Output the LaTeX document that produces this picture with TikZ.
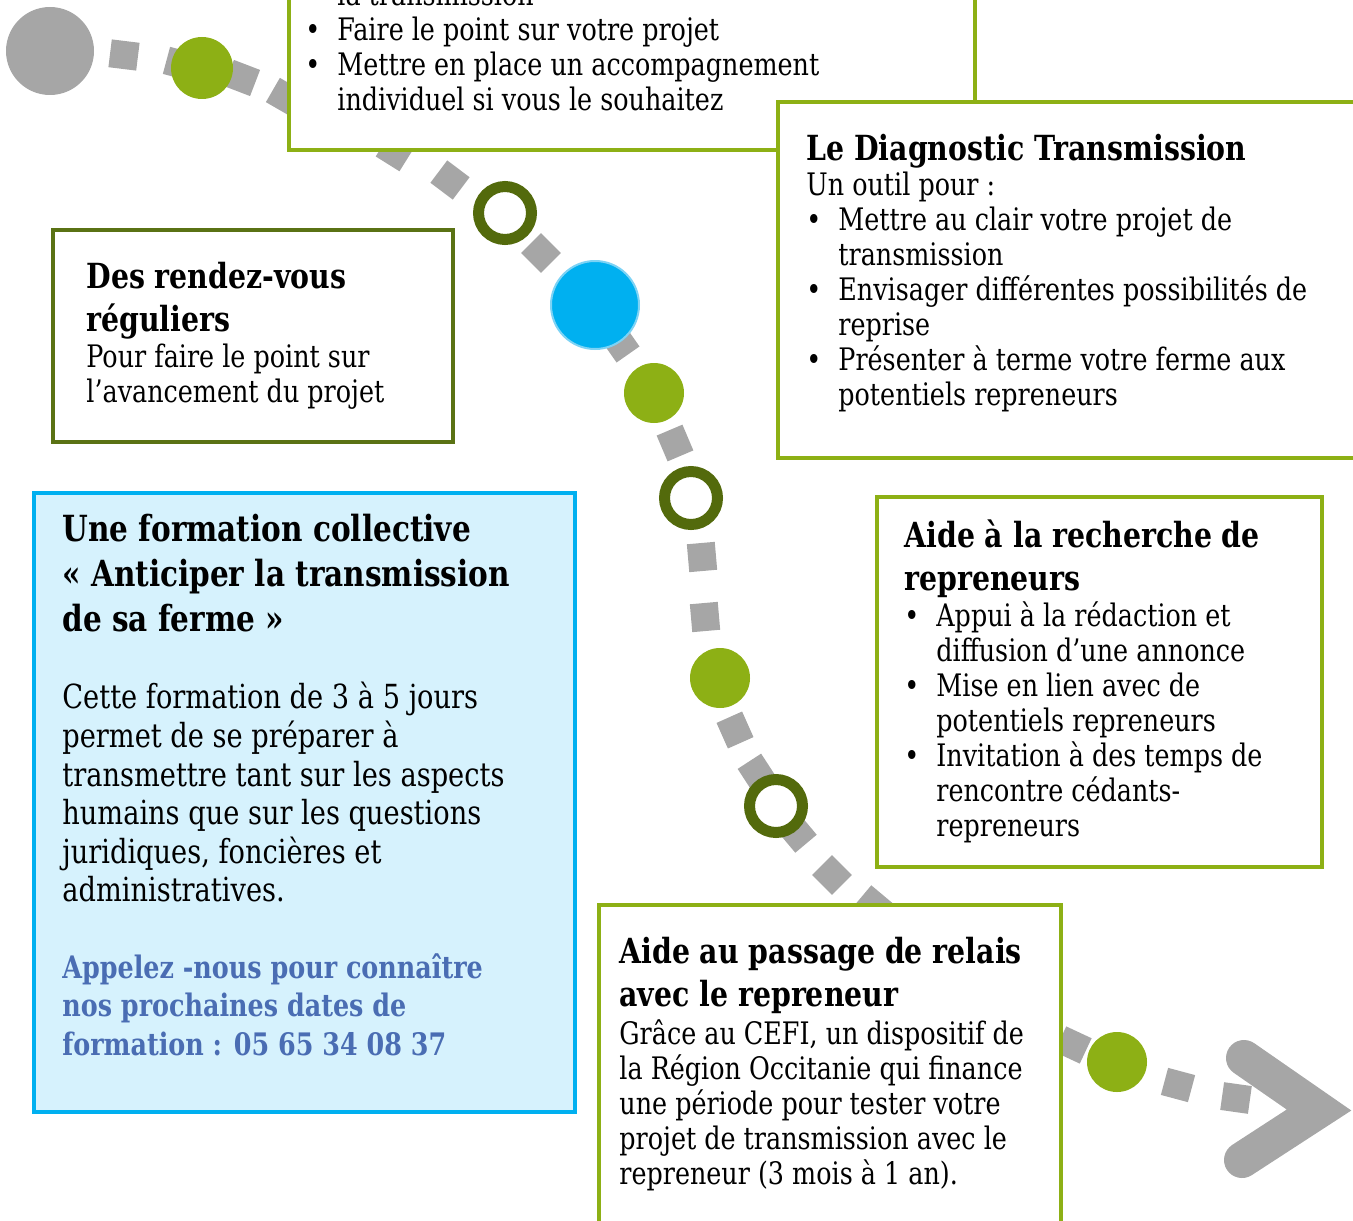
\documentclass[tikz,border=0pt]{standalone}
\usepackage{fontspec}
\setmainfont{DejaVu Serif}
\newfontfamily\etroit{DejaVu Serif}[FakeStretch=0.82]
\usetikzlibrary{positioning}

\definecolor{vertclair}{HTML}{8DB015}
\definecolor{vertfonce}{HTML}{5A7214}
\definecolor{vertanneau}{HTML}{536A0C}
\definecolor{gris}{HTML}{A6A6A6}
\definecolor{bleu}{HTML}{00B0F0}
\definecolor{bleubord}{HTML}{7DD3F5}
\definecolor{bleupale}{HTML}{D6F2FD}
\definecolor{bleutexte}{HTML}{4A6DB3}

\newcommand{\puce}{\makebox[16pt][l]{\textbullet}}
\newcommand{\suite}{\hspace*{16pt}}

\begin{document}
\begin{tikzpicture}[x=0.5pt, y=-0.5pt,
    pave/.style={fill=gris, minimum size=14pt, inner sep=0pt},
    pastille/.style={circle, fill=vertclair, minimum size=30pt, inner sep=0pt},
    anneau/.style={circle, draw=vertanneau, line width=5.5pt, fill=white, minimum size=26.5pt, inner sep=0pt},
    cadre/.style={draw=vertclair, line width=2pt, fill=white, anchor=north west, inner sep=0pt},
    titre/.style={anchor=north west, inner sep=0pt, align=left, font=\etroit\bfseries\fontsize{17.3}{21.5}\selectfont},
    texte/.style={anchor=north west, inner sep=0pt, align=left, font=\etroit\fontsize{15.5}{17.5}\selectfont}]
  \useasboundingbox (0,0) rectangle (1353,1220);

  % le chemin
  \node[pave, rotate=-7] (p1) at (124,55) {};
  \node[pave, rotate=-15] (p2) at (180,64) {};
  \node[pave, rotate=-21] (p3) at (242,78) {};
  \node[pave, rotate=-30] (p4) at (285,97) {};
  \node[pave, rotate=-32] (p5) at (395,152) {};
  \node[pave, rotate=-37] (p6) at (450,180) {};
  \node[pave, rotate=-45] (p7) at (541,253) {};
  \node[pave, rotate=-55] (p8) at (620,343) {};
  \node[pave, rotate=-67] (p9) at (675,443) {};
  \node[pave, rotate=-85] (p10) at (702,557) {};
  \node[pave, rotate=-85] (p11) at (705,617) {};
  \node[pave, rotate=-66] (p12) at (735,730) {};
  \node[pave, rotate=-57] (p13) at (757,773) {};
  \node[pave, rotate=-50] (p14) at (797,833) {};
  \node[pave, rotate=-45] (p15) at (832,875) {};
  \node[pave, rotate=-40] (p16) at (873,905) {};
  \node[pave, rotate=-25] (p17) at (1073,1045) {};
  \node[pave, rotate=-15] (p18) at (1178,1085) {};
  \node[pave, rotate=-8] (p19) at (1236,1098) {};

  \node[circle, fill=gris, minimum size=44pt, inner sep=0pt] (depart) at (50,51) {};
  \node[pastille, minimum size=31pt] (e1) at (202,68) {};
  \node[anneau] (e2) at (505,213) {};
  \node[circle, fill=bleu, draw=bleubord, line width=1pt, minimum size=44pt, inner sep=0pt] (e3) at (595,305) {};
  \node[pastille] (e4) at (654,393) {};
  \node[anneau] (e5) at (691,498) {};
  \node[pastille] (e6) at (720,678) {};
  \node[anneau] (e7) at (776,806) {};
  \node[pastille] (e8) at (1117,1062) {};

  \coordinate (fhaut) at (1244,1058);
  \coordinate (fpointe) at (1319,1110);
  \coordinate (fbas) at (1242,1160);
  \draw[gris, line width=18pt, line cap=round, line join=miter] (fhaut) -- (fpointe) -- (fbas);

  % les cadres
  \node[cadre, minimum width=343pt, minimum height=104pt] (haut) at (287,-60) {};
  \node[cadre, minimum width=302pt, minimum height=178pt] (diag) at (776,100) {};
  \node[cadre, draw=vertfonce, minimum width=200pt, minimum height=106pt] (rdv) at (51,228) {};
  \node[cadre, draw=bleu, fill=bleupale, minimum width=270.5pt, minimum height=309.5pt] (formation) at (32,491) {};
  \node[cadre, minimum width=222.5pt, minimum height=185pt] (recherche) at (875,495) {};
  \node[cadre, minimum width=231pt, minimum height=178.5pt] (relais) at (597,903) {};

  % les textes
  \node[texte] (hautliste) at (305,-18) {\suite la transmission\\ \puce Faire le point sur votre projet\\
    \puce Mettre en place un accompagnement\\ \suite individuel si vous le souhaitez};

  \node[titre] (diagtitre) at (806,134) {Le Diagnostic Transmission};
  \node[texte] (diagliste) at (806,172) {Un outil pour :\\ \puce Mettre au clair votre projet de\\
    \suite transmission\\ \puce Envisager différentes possibilités de\\ \suite reprise\\
    \puce Présenter à terme votre ferme aux\\ \suite potentiels repreneurs};

  \node[titre] (rdvtitre) at (86,262) {Des rendez-vous\\ réguliers};
  \node[texte] (rdvtexte) at (86,344) {Pour faire le point sur\\ l’avancement du projet};

  \node[titre, font=\etroit\bfseries\fontsize{18}{22.5}\selectfont] (formtitre) at (62,514)
    {Une formation collective\\ « Anticiper la transmission\\ de sa ferme »};
  \node[texte, font=\etroit\fontsize{16.6}{19.3}\selectfont] (formtexte) at (62,682)
    {Cette formation de 3 à 5 jours\\ permet de se préparer à\\ transmettre tant sur les aspects\\
     humains que sur les questions\\ juridiques, foncières et\\ administratives.};
  \node[texte, text=bleutexte, font=\etroit\bfseries\fontsize{15.5}{19.3}\selectfont] (formappel) at (62,953)
    {Appelez -nous pour connaître\\ nos prochaines dates de\\ formation : 05 65 34 08 37};

  \node[titre] (recherchetitre) at (904,519) {Aide à la recherche de\\ repreneurs};
  \node[texte] (rechercheliste) at (904,601) {\puce Appui à la rédaction et\\ \suite diffusion d’une annonce\\
    \puce Mise en lien avec de\\ \suite potentiels repreneurs\\ \puce Invitation à des temps de\\
    \suite rencontre cédants-\\ \suite repreneurs};

  \node[titre] (relaistitre) at (619,937) {Aide au passage de relais\\ avec le repreneur};
  \node[texte] (relaistexte) at (619,1019) {Grâce au CEFI, un dispositif de\\ la Région Occitanie qui finance\\
    une période pour tester votre\\ projet de transmission avec le\\ repreneur (3 mois à 1 an).};
\end{tikzpicture}
\end{document}
